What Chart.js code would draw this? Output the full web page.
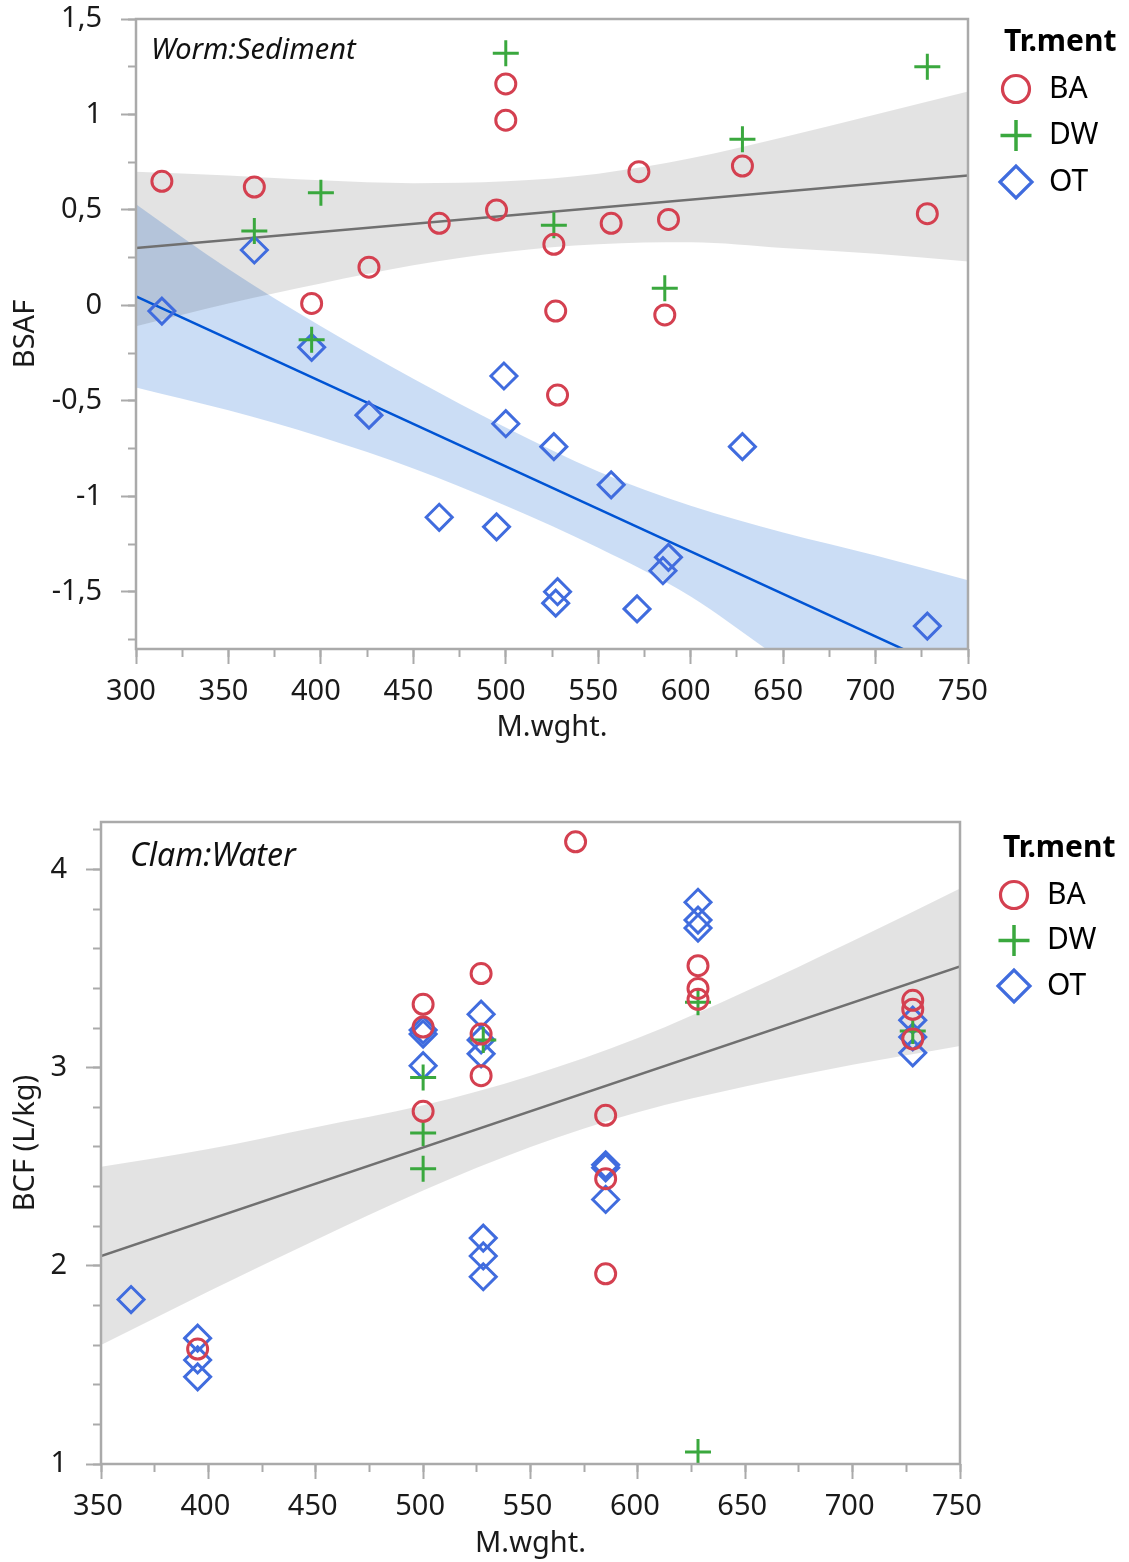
<!DOCTYPE html>
<html>
<head>
<meta charset="utf-8">
<title>BSAF / BCF vs M.wght.</title>
<script src="https://cdn.jsdelivr.net/npm/chart.js@4.4.1/dist/chart.umd.min.js"></script>
<style>
  html, body { margin: 0; padding: 0; background: #fff; }
  #wrap { position: relative; width: 1129px; height: 1562px; }
  canvas { position: absolute; left: 0; }
  #wormChart { top: 0; }
  #clamChart { top: 780px; }
</style>
</head>
<body>
<div id="wrap">
  <canvas id="wormChart" width="1129" height="780"></canvas>
  <canvas id="clamChart" width="1129" height="782"></canvas>
</div>
<script>
// ---- Worm:Sediment (BSAF) ----
const wormMwBA = [314, 364, 395, 426, 464, 495, 500, 500, 526, 527, 528, 557, 572, 586, 588, 628, 728];
const wormBsafBA = [0.65, 0.62, 0.01, 0.2, 0.43, 0.5, 1.16, 0.97, 0.32, -0.03, -0.47, 0.43, 0.7, -0.05, 0.45, 0.73, 0.48];
const wormMwDW = [364, 395, 400, 500, 526, 586, 628, 728];
const wormBsafDW = [0.39, -0.18, 0.59, 1.32, 0.42, 0.09, 0.87, 1.25];
const wormMwOT = [314, 364, 395, 426, 464, 495, 499, 500, 526, 527, 528, 557, 571, 585, 588, 628, 728];
const wormBsafOT = [-0.03, 0.29, -0.22, -0.575, -1.11, -1.16, -0.37, -0.62, -0.74, -1.56, -1.5, -0.94, -1.59, -1.39, -1.32, -0.74, -1.68];

// fit lines and confidence bands
const wormFitMw = [300, 750];
const wormFitGray = [0.3, 0.68];
const wormFitBlue = [0.047, -1.957];
const wormBandMw = [300, 350, 400, 450, 500, 550, 600, 650, 700, 750];
const wormGrayUpper = [0.7, 0.68, 0.655, 0.64, 0.65, 0.69, 0.77, 0.88, 1.0, 1.12];
const wormGrayLower = [-0.11, 0.01, 0.115, 0.21, 0.28, 0.32, 0.33, 0.3, 0.27, 0.23];
const wormBlueUpper = [0.53, 0.19, -0.11, -0.385, -0.64, -0.87, -1.05, -1.19, -1.31, -1.44];
const wormBlueLower = [-0.43, -0.55, -0.69, -0.855, -1.05, -1.27, -1.525, -1.86, -2.15, -2.48];

// ---- Clam:Water (BCF) ----
const clamMwBA = [395, 500, 500, 500, 527, 527, 527, 571, 585, 585, 585, 628, 628, 628, 728, 728, 728];
const clamBcfBA = [1.58, 3.32, 3.205, 2.78, 3.475, 3.17, 2.96, 4.14, 2.76, 2.44, 1.96, 3.515, 3.4, 3.345, 3.34, 3.295, 3.145];
const clamMwDW = [500, 500, 500, 528, 628, 628, 728];
const clamBcfDW = [2.95, 2.67, 2.49, 3.14, 3.33, 1.06, 3.185];
const clamMwOT = [364, 395, 395, 395, 500, 500, 500, 527, 527, 527, 528, 528, 528, 585, 585, 585, 628, 628, 628, 728, 728, 728];
const clamBcfOT = [1.83, 1.635, 1.525, 1.44, 3.19, 3.17, 3.01, 3.27, 3.14, 3.07, 2.14, 2.05, 1.945, 2.51, 2.495, 2.335, 3.835, 3.745, 3.705, 3.24, 3.155, 3.075];

const clamFitMw = [350, 750];
const clamFitGray = [2.049, 3.511];
const clamBandMw = [350, 400, 450, 500, 550, 600, 650, 700, 750];
const clamGrayUpper = [2.5, 2.59, 2.7, 2.81, 2.96, 3.15, 3.385, 3.64, 3.905];
const clamGrayLower = [1.6, 1.87, 2.13, 2.38, 2.6, 2.775, 2.905, 3.015, 3.11];

const legendNames = ["BA", "DW", "OT"];

// colours
const RED = "rgb(212,64,80)";
const GREEN = "rgb(58,168,62)";
const BLUE = "rgb(64,108,222)";
const FRAME = "#aaaaaa";
const TEXT = "#1a1a1a";

Chart.defaults.font.family = "'Noto Sans', 'Open Sans', sans-serif";
Chart.defaults.font.size = 29;
Chart.defaults.color = TEXT;

function pts(xs, ys) {
  return xs.map((x, i) => ({ x: x, y: ys[i] }));
}
const comma = (v) => String(v).replace(".", ",");

function markerSets(mwBA, yBA, mwDW, yDW, mwOT, yOT) {
  return [
    { label: "BA", data: pts(mwBA, yBA), pointStyle: "circle", pointRadius: 10,
      pointBorderWidth: 3, pointBorderColor: RED, pointBackgroundColor: "rgba(0,0,0,0)", order: 1 },
    { label: "DW", data: pts(mwDW, yDW), pointStyle: "cross", pointRadius: 13,
      pointBorderWidth: 3, pointBorderColor: GREEN, pointBackgroundColor: "rgba(0,0,0,0)", order: 1 },
    { label: "OT", data: pts(mwOT, yOT), pointStyle: "rectRot", pointRadius: 13,
      pointBorderWidth: 3, pointBorderColor: BLUE, pointBackgroundColor: "rgba(0,0,0,0)", order: 1 },
  ];
}

function fitLine(xs, ys, color) {
  return { data: pts(xs, ys), showLine: true, borderColor: color, borderWidth: 2.5,
    pointRadius: 0, order: 3 };
}

function band(xs, upper, lower, color) {
  return [
    { data: pts(xs, upper), showLine: true, borderWidth: 0, borderColor: "rgba(0,0,0,0)",
      pointRadius: 0, fill: "+1", backgroundColor: color, cubicInterpolationMode: "monotone", order: 5 },
    { data: pts(xs, lower), showLine: true, borderWidth: 0, borderColor: "rgba(0,0,0,0)",
      pointRadius: 0, fill: false, cubicInterpolationMode: "monotone", order: 5 },
  ];
}

// axis pair: labelled major ticks + short minor ticks on a second, zero-size scale
function axes(cfg) {
  const noPad = (s) => { s.paddingLeft = 0; s.paddingRight = 0; s.paddingTop = 0; s.paddingBottom = 0; };
  return {
    x: {
      type: "linear", position: "bottom", weight: 1, min: cfg.xMin, max: cfg.xMax,
      border: { display: false },
      grid: { drawOnChartArea: false, tickLength: 15, tickWidth: 2, tickColor: FRAME },
      ticks: { stepSize: 50, padding: 10, labelOffset: cfg.xLabelShift, maxRotation: 0, autoSkip: false, includeBounds: false },
      title: { display: true, text: "M.wght.", color: TEXT, padding: { top: 0, bottom: cfg.xTitlePad } },
      afterFit: (s) => { s.height = cfg.xHeight; noPad(s); },
    },
    xMinor: {
      type: "linear", position: "bottom", weight: 0, min: cfg.xMin, max: cfg.xMax,
      border: { display: false },
      grid: { drawOnChartArea: false, tickLength: 8, tickWidth: 2, tickColor: FRAME },
      ticks: { display: false, stepSize: 25, includeBounds: false },
      afterFit: (s) => { s.height = 0; noPad(s); },
    },
    y: {
      type: "linear", position: "left", weight: 1, min: cfg.yMin, max: cfg.yMax,
      border: { display: false },
      grid: { drawOnChartArea: false, tickLength: 15, tickWidth: 2, tickColor: FRAME },
      ticks: { stepSize: cfg.yStep, padding: 19, includeBounds: false, callback: comma },
      title: { display: true, text: cfg.yTitle, color: TEXT, padding: { top: 8, bottom: 0 } },
      afterFit: (s) => { s.width = cfg.yWidth; noPad(s); },
    },
    yMinor: {
      type: "linear", position: "left", weight: 0, min: cfg.yMin, max: cfg.yMax,
      border: { display: false },
      grid: { drawOnChartArea: false, tickLength: 8, tickWidth: 2, tickColor: FRAME },
      ticks: { display: false, stepSize: cfg.yMinorStep, includeBounds: false },
      afterFit: (s) => { s.width = 0; noPad(s); },
    },
  };
}

// grey frame round the plot area
const framePlugin = {
  id: "frame",
  afterDraw(chart) {
    const { ctx, chartArea: a } = chart;
    ctx.save();
    ctx.strokeStyle = FRAME;
    ctx.lineWidth = 2.5;
    ctx.strokeRect(a.left, a.top, a.right - a.left, a.bottom - a.top);
    ctx.restore();
  },
};

// italic caption in the upper-left corner
const captionPlugin = {
  id: "caption",
  afterDatasetsDraw(chart, args, opts) {
    const { ctx, chartArea: a } = chart;
    ctx.save();
    ctx.font = "italic " + opts.size + "px 'Noto Sans', sans-serif";
    ctx.fillStyle = "#111";
    ctx.textBaseline = "middle";
    ctx.fillText(opts.text, a.left + opts.dx, a.top + opts.dy);
    ctx.restore();
  },
};

function drawMarker(ctx, style, x, y, r, color, width) {
  ctx.save();
  ctx.strokeStyle = color;
  ctx.lineWidth = width;
  ctx.beginPath();
  if (style === "circle") {
    ctx.arc(x, y, r, 0, Math.PI * 2);
  } else if (style === "cross") {
    ctx.moveTo(x - r, y); ctx.lineTo(x + r, y);
    ctx.moveTo(x, y - r); ctx.lineTo(x, y + r);
  } else {
    ctx.moveTo(x - r, y); ctx.lineTo(x, y - r); ctx.lineTo(x + r, y); ctx.lineTo(x, y + r);
    ctx.closePath();
  }
  ctx.stroke();
  ctx.restore();
}

// "Tr.ment" legend at the right
const legendPlugin = {
  id: "trLegend",
  afterDraw(chart, args, o) {
    const ctx = chart.ctx;
    ctx.save();
    ctx.fillStyle = "#000";
    ctx.textBaseline = "middle";
    ctx.font = "bold 30px 'Noto Sans', sans-serif";
    ctx.fillText("Tr.ment", o.x, o.titleY);
    ctx.font = "30px 'Noto Sans', sans-serif";
    const styles = [["circle", 13.5, RED, 3.2], ["cross", 15.5, GREEN, 3.5], ["rectRot", 16, BLUE, 3.2]];
    legendNames.forEach((name, i) => {
      const y = o.rowY + i * o.rowGap;
      const s = styles[i];
      drawMarker(ctx, s[0], o.symX, y, s[1], s[2], s[3]);
      ctx.fillStyle = "#000";
      ctx.fillText(name, o.textX, y);
    });
    ctx.restore();
  },
};

function makeChart(id, cfg, datasets) {
  return new Chart(document.getElementById(id), {
    type: "scatter",
    data: { datasets: datasets },
    options: {
      responsive: false,
      animation: false,
      devicePixelRatio: 1,
      layout: { padding: cfg.padding },
      scales: axes(cfg),
      plugins: {
        legend: { display: false },
        tooltip: { enabled: false },
        caption: cfg.caption,
        trLegend: cfg.legend,
      },
    },
    plugins: [framePlugin, captionPlugin, legendPlugin],
  });
}

makeChart("wormChart", {
  padding: { top: 19, right: 161, bottom: 0, left: 0 },
  xMin: 300, xMax: 750, xHeight: 131, xTitlePad: 35, xLabelShift: -5,
  yMin: -1.8, yMax: 1.5, yStep: 0.5, yMinorStep: 0.25, yWidth: 136, yTitle: "BSAF",
  caption: { text: "Worm:Sediment", dx: 15, dy: 32, size: 29 },
  legend: { x: 1004, titleY: 42, symX: 1016, textX: 1049, rowY: 89, rowGap: 46.5 },
}, [
  ...markerSets(wormMwBA, wormBsafBA, wormMwDW, wormBsafDW, wormMwOT, wormBsafOT),
  fitLine(wormFitMw, wormFitGray, "rgb(112,112,112)"),
  fitLine(wormFitMw, wormFitBlue, "rgb(0,84,212)"),
  ...band(wormBandMw, wormGrayUpper, wormGrayLower, "rgba(0,0,0,0.11)"),
  ...band(wormBandMw, wormBlueUpper, wormBlueLower, "rgba(47,119,215,0.25)"),
]);

makeChart("clamChart", {
  padding: { top: 42, right: 169, bottom: 0, left: 0 },
  xMin: 350, xMax: 750, xHeight: 98, xTitlePad: 1, xLabelShift: -3,
  yMin: 1, yMax: 4.24, yStep: 1, yMinorStep: 0.2, yWidth: 101, yTitle: "BCF (L/kg)",
  caption: { text: "Clam:Water", dx: 29, dy: 35, size: 32 },
  legend: { x: 1003, titleY: 68, symX: 1014, textX: 1047, rowY: 115, rowGap: 45.5 },
}, [
  ...markerSets(clamMwBA, clamBcfBA, clamMwDW, clamBcfDW, clamMwOT, clamBcfOT),
  fitLine(clamFitMw, clamFitGray, "rgb(112,112,112)"),
  ...band(clamBandMw, clamGrayUpper, clamGrayLower, "rgba(0,0,0,0.11)"),
]);
</script>
</body>
</html>
